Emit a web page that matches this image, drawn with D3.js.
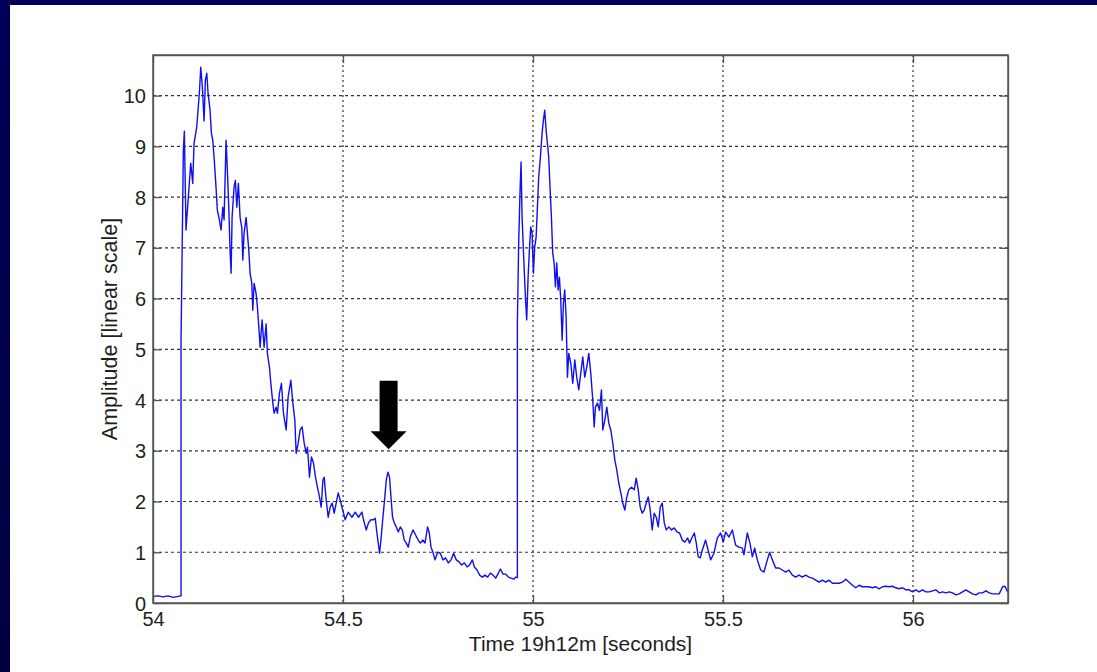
<!DOCTYPE html>
<html>
<head>
<meta charset="utf-8">
<script src="https://cdn.jsdelivr.net/npm/d3@7"></script>
<style>
  html, body { margin: 0; padding: 0; background: #ffffff; overflow: hidden; }
  svg { display: block; }
  text { font-family: "Liberation Sans", Arial, sans-serif; fill: #1e1e1e; }
</style>
</head>
<body>
<div id="chart"></div>
<script>
// Tick values
const xTicks = [54, 54.5, 55, 55.5, 56];
const xTickLabels = ["54", "54.5", "55", "55.5", "56"];
const yTicks = [0, 1, 2, 3, 4, 5, 6, 7, 8, 9, 10];

// Signal: time [s] and amplitude
const timeSec = [
  54.0, 54.0132, 54.0263, 54.0395, 54.0527, 54.0659, 54.0711, 54.0738, 54.0738,
  54.0764, 54.0798, 54.0825, 54.0869, 54.0930, 54.0993, 54.1046, 54.1080, 54.1151,
  54.1220, 54.1257, 54.1299, 54.1344, 54.1378, 54.1415, 54.1449, 54.1502, 54.1536,
  54.1573, 54.1607, 54.1652, 54.1694, 54.1747, 54.1791, 54.1836, 54.1870, 54.1923,
  54.1957, 54.1994, 54.2028, 54.2055, 54.2081, 54.2134, 54.2168, 54.2205, 54.2247,
  54.2292, 54.2337, 54.2363, 54.2397, 54.2450, 54.2484, 54.2521, 54.2555, 54.2600,
  54.2626, 54.2661, 54.2713, 54.2748, 54.2785, 54.2819, 54.2871, 54.2924, 54.2977,
  54.3011, 54.3064, 54.3101, 54.3153, 54.3188, 54.3240, 54.3275, 54.3327, 54.3380,
  54.3433, 54.3504, 54.3556, 54.3627, 54.3680, 54.3733, 54.3767, 54.3820, 54.3873,
  54.3925, 54.3978, 54.4031, 54.4065, 54.4118, 54.4170, 54.4223, 54.4276, 54.4328,
  54.4381, 54.4426, 54.4471, 54.4505, 54.4558, 54.4610, 54.4663, 54.4716, 54.4768,
  54.4821, 54.4874, 54.4926,
  54.5058, 54.5137, 54.5235, 54.5322, 54.5408, 54.5498, 54.5540, 54.5611, 54.5672,
  54.5735, 54.5804, 54.5848, 54.5893, 54.5962, 54.5998, 54.6051, 54.6093, 54.6138,
  54.6183, 54.6225, 54.6262, 54.6304, 54.6349, 54.6402, 54.6454, 54.6507, 54.6560,
  54.6612, 54.6665, 54.6718, 54.6770, 54.6841, 54.6910, 54.6981, 54.7034, 54.7105,
  54.7158, 54.7226, 54.7271, 54.7316, 54.7368, 54.7421, 54.7490, 54.7561, 54.7632,
  54.7700, 54.7771, 54.7843, 54.7911, 54.7982, 54.8053, 54.8122, 54.8193, 54.8264,
  54.8333, 54.8404, 54.8457, 54.8528, 54.8596, 54.8667, 54.8738, 54.8807, 54.8878,
  54.8949, 54.9018, 54.9089, 54.9141, 54.9212, 54.9281, 54.9352, 54.9423, 54.9492,
  54.9544, 54.9589, 54.9589,
  54.9623, 54.9660, 54.9686, 54.9713, 54.9755, 54.9800, 54.9834, 54.9871, 54.9905,
  54.9940, 54.9976, 55.0011, 55.0045, 55.0082, 55.0116, 55.0150, 55.0195, 55.0240,
  55.0274, 55.0308, 55.0345, 55.0379, 55.0414, 55.0451, 55.0485, 55.0519, 55.0556,
  55.0590, 55.0625, 55.0661, 55.0696, 55.0730, 55.0767, 55.0801, 55.0835, 55.0872,
  55.0906, 55.0941, 55.0993, 55.1046, 55.1099, 55.1151, 55.1204, 55.1257, 55.1310,
  55.1362, 55.1415, 55.1468, 55.1520, 55.1573, 55.1610, 55.1644, 55.1697, 55.1750,
  55.1802, 55.1837, 55.1889, 55.1942, 55.1995, 55.2047, 55.2100, 55.2153, 55.2205,
  55.2258, 55.2311, 55.2363, 55.2416, 55.2469, 55.2521, 55.2592, 55.2663, 55.2716,
  55.2769, 55.2821, 55.2874, 55.2927, 55.2979, 55.3032, 55.3085, 55.3137, 55.3190,
  55.3243, 55.3296, 55.3348, 55.3401, 55.3454, 55.3506, 55.3575, 55.3646, 55.3717,
  55.3786, 55.3857, 55.3928, 55.3996, 55.4068, 55.4120, 55.4191, 55.4244, 55.4297,
  55.4349, 55.4402, 55.4455,
  55.4542, 55.4674, 55.4761, 55.4850, 55.4937, 55.5008, 55.5069, 55.5156, 55.5245,
  55.5332, 55.5419, 55.5509, 55.5551, 55.5640, 55.5709, 55.5772, 55.5833, 55.5904,
  55.5991, 55.6078, 55.6167, 55.6228, 55.6299, 55.6386, 55.6473, 55.6562, 55.6649,
  55.6736, 55.6826, 55.6913, 55.7000, 55.7089, 55.7176, 55.7263, 55.7353, 55.7440,
  55.7527, 55.7616, 55.7703, 55.7790, 55.7880, 55.7967, 55.8054, 55.8143, 55.8230,
  55.8317, 55.8407, 55.8494, 55.8581, 55.8670, 55.8757, 55.8844, 55.8934, 55.9021,
  55.9108, 55.9197, 55.9284, 55.9371, 55.9460, 55.9547, 55.9634, 55.9724, 55.9811,
  55.9898, 55.9987, 56.0074, 56.0161, 56.0251, 56.0338, 56.0425, 56.0514, 56.0601,
  56.0688, 56.0778, 56.0865, 56.0952, 56.1041, 56.1128, 56.1215, 56.1305, 56.1392,
  56.1479, 56.1568, 56.1655, 56.1742, 56.1832, 56.1919, 56.2006, 56.2095, 56.2182,
  56.2269, 56.2358, 56.2419, 56.2490
];
const amplitude = [
  0.13, 0.14, 0.12, 0.14, 0.11, 0.13, 0.14, 0.14, 5.2,
  6.75, 8.9, 9.3, 7.35, 8.0, 8.67, 8.27, 9.06, 9.38,
  10.05, 10.56, 10.17, 9.5, 10.3, 10.44, 10.05, 9.71, 9.26,
  9.12, 8.79, 8.27, 7.74, 7.55, 7.35, 7.8, 7.55, 9.12,
  8.53, 7.8, 6.95, 6.5, 7.6, 8.2, 8.33, 7.8, 8.27,
  7.6, 7.4, 6.76, 7.29, 7.6, 7.29, 6.95, 6.5, 6.3,
  5.77, 6.3, 6.1, 5.83, 5.44, 5.04, 5.58, 5.04, 5.5,
  4.92, 4.65, 4.33, 3.94, 3.74, 3.86, 3.74, 4.13, 4.33,
  3.74, 3.41, 4.06, 4.39, 3.94, 3.6, 2.95, 3.15, 3.41,
  3.47, 3.15, 2.95, 3.07, 2.48, 2.88, 2.76, 2.48, 2.28,
  2.09, 1.89, 2.42, 2.48, 2.03, 1.69, 1.89, 1.97, 1.77,
  1.97, 2.17, 2.03,
  1.64, 1.79, 1.69, 1.79, 1.69, 1.79, 1.64, 1.44, 1.58,
  1.64, 1.64, 1.67, 1.38, 0.98, 1.24, 1.69, 2.03, 2.42,
  2.58, 2.48, 2.09, 1.69, 1.58, 1.5, 1.40, 1.5, 1.44,
  1.24, 1.18, 1.1, 1.3, 1.44, 1.34, 1.24, 1.18, 1.24,
  1.18, 1.5, 1.38, 1.1, 1.0, 0.85, 1.0, 0.98, 0.85,
  0.89, 0.79, 0.85, 0.98, 0.85, 0.81, 0.75, 0.79, 0.71,
  0.75, 0.85, 0.71, 0.65, 0.55, 0.51, 0.55, 0.51, 0.59,
  0.55, 0.49, 0.59, 0.67, 0.57, 0.57, 0.51, 0.49, 0.47,
  0.51, 0.5, 5.52,
  7.09, 8.14, 8.69, 7.6, 6.82, 6.03, 5.58, 6.42, 6.95,
  7.41, 7.29, 6.5, 7.01, 7.21, 7.8, 8.39, 8.79, 9.26,
  9.52, 9.71, 9.32, 9.06, 8.79, 8.14, 7.6, 6.9, 6.7,
  6.23, 6.7, 6.17, 6.42, 5.97, 5.18, 5.91, 6.17, 5.63,
  4.45, 4.92, 4.73, 4.33, 4.79, 4.45, 4.2, 4.53, 4.85,
  4.45, 4.65, 4.92, 4.53, 4.0, 3.47, 3.86, 3.94, 3.8,
  4.2, 3.41, 3.6, 3.86, 3.54, 3.41, 3.15, 2.82, 2.62,
  2.36, 2.17, 1.97, 1.83, 2.09, 2.23, 2.28, 2.23, 2.46,
  2.23, 1.89, 1.77, 1.83, 1.97, 2.09, 1.83, 1.44, 1.77,
  1.69, 1.50, 1.89, 1.97, 1.58, 1.44, 1.5, 1.44, 1.48,
  1.40, 1.38, 1.24, 1.2, 1.28, 1.18, 1.3, 1.38, 1.18,
  0.91, 0.89, 1.04,
  1.24, 0.85, 0.98, 1.28, 1.38, 1.2, 1.4, 1.3, 1.44,
  1.14, 1.1, 1.08, 0.95, 1.38, 1.18, 0.91, 1.08, 0.85,
  0.65, 0.61, 0.85, 1.0, 0.85, 0.69, 0.69, 0.65, 0.61,
  0.65, 0.55, 0.51, 0.55, 0.51, 0.55, 0.51, 0.49, 0.45,
  0.41, 0.45, 0.41, 0.45, 0.39, 0.39, 0.39, 0.41, 0.47,
  0.41, 0.35, 0.30, 0.35, 0.32, 0.32, 0.32, 0.30, 0.32,
  0.28, 0.32, 0.33, 0.32, 0.33, 0.30, 0.28, 0.30, 0.26,
  0.26, 0.22, 0.26, 0.22, 0.26, 0.22, 0.22, 0.24, 0.26,
  0.20, 0.22, 0.20, 0.22, 0.20, 0.16, 0.18, 0.22, 0.26,
  0.22, 0.18, 0.16, 0.20, 0.20, 0.24, 0.20, 0.18, 0.18,
  0.18, 0.32, 0.33, 0.22
];

// Arrow pointing at the small bump
const arrowTime = 54.62;
const arrowTip = 3.03;
const arrowTail = 4.38;

// Page size and plot box
const width = 1097, height = 672;
const margin = {top: 55, right: 89, bottom: 69, left: 153};
const plotW = width - margin.left - margin.right;
const plotH = height - margin.top - margin.bottom;

const svg = d3.select("#chart")
    .append("svg")
    .attr("width", width)
    .attr("height", height);

// Slide background: navy bands on the top and left edges
const navy = svg.append("defs").append("linearGradient")
    .attr("id", "navy").attr("x1", 0).attr("y1", 0).attr("x2", 0).attr("y2", 1);
navy.append("stop").attr("offset", "0%").attr("stop-color", "#000058");
navy.append("stop").attr("offset", "100%").attr("stop-color", "#000040");

svg.append("rect")
    .attr("width", width).attr("height", height)
    .attr("fill", "#ffffff");
svg.append("rect")
    .attr("width", 10).attr("height", height)
    .attr("fill", "url(#navy)");
svg.append("rect")
    .attr("width", width).attr("height", 5)
    .attr("fill", "#000058");

const g = svg.append("g")
    .attr("transform", `translate(${margin.left}, ${margin.top})`);

const x = d3.scaleLinear().domain([54, 56.25]).range([0, plotW]);
const y = d3.scaleLinear().domain([0, 10.8]).range([plotH, 0]);

// Grid lines
g.append("g")
    .selectAll("line")
    .data(yTicks.filter(d => d > 0))
    .enter()
    .append("line")
    .attr("x1", 0).attr("x2", plotW)
    .attr("y1", d => y(d)).attr("y2", d => y(d))
    .style("stroke", "#333")
    .style("stroke-width", 1.2)
    .style("stroke-dasharray", "3,3");

g.append("g")
    .selectAll("line")
    .data(xTicks.filter(d => d > 54))
    .enter()
    .append("line")
    .attr("x1", d => x(d)).attr("x2", d => x(d))
    .attr("y1", 0).attr("y2", plotH)
    .style("stroke", "#333")
    .style("stroke-width", 1.2)
    .style("stroke-dasharray", "2,3");

// Signal
const line = d3.line()
    .x((d, i) => x(timeSec[i]))
    .y(d => y(d));

g.append("path")
    .datum(amplitude)
    .attr("d", line)
    .style("fill", "none")
    .style("stroke", "#1010ec")
    .style("stroke-width", 1.4)
    .style("stroke-linejoin", "round");

// Arrow annotation
const ax = x(arrowTime), tipY = y(arrowTip), tailY = y(arrowTail);
const headLen = 18, shaftHalf = 9, headHalf = 18;
g.append("path")
    .attr("d", `M${ax - shaftHalf},${tailY} L${ax + shaftHalf},${tailY} L${ax + shaftHalf},${tipY - headLen}
      L${ax + headHalf},${tipY - headLen} L${ax},${tipY} L${ax - headHalf},${tipY - headLen}
      L${ax - shaftHalf},${tipY - headLen} Z`)
    .style("fill", "#000");

// Axes (MATLAB-style: ticks inside, box all round)
const axisColor = "#555";
const xAxis = g.append("g")
    .attr("transform", `translate(0, ${plotH})`)
    .call(d3.axisBottom(x).tickValues(xTicks)
        .tickFormat((d, i) => xTickLabels[i])
        .tickSizeInner(-8).tickSizeOuter(0).tickPadding(13));
const yAxis = g.append("g")
    .call(d3.axisLeft(y).tickValues(yTicks)
        .tickSizeInner(-8).tickSizeOuter(0).tickPadding(14));
g.append("g")
    .call(d3.axisTop(x).tickValues(xTicks).tickFormat("")
        .tickSizeInner(-8).tickSizeOuter(0));
g.append("g")
    .attr("transform", `translate(${plotW}, 0)`)
    .call(d3.axisRight(y).tickValues(yTicks).tickFormat("")
        .tickSizeInner(-8).tickSizeOuter(0));

g.selectAll(".domain, .tick line")
    .style("stroke", axisColor)
    .style("stroke-width", 1.3);
xAxis.selectAll("text").style("font-size", "20px").attr("dy", "0.5em");
yAxis.selectAll("text").style("font-size", "20px").attr("dx", "7px").attr("dy", "0.35em");

g.append("rect")
    .attr("width", plotW).attr("height", plotH)
    .style("fill", "none")
    .style("stroke", axisColor)
    .style("stroke-width", 1.5);

// Axis labels
g.append("text")
    .attr("x", plotW / 2)
    .attr("y", plotH + 48)
    .style("text-anchor", "middle")
    .style("font-size", "21px")
    .text("Time 19h12m [seconds]");

g.append("text")
    .attr("transform", `translate(-36, ${plotH / 2}) rotate(-90)`)
    .style("text-anchor", "middle")
    .style("font-size", "21.5px")
    .text("Amplitude [linear scale]");
</script>
</body>
</html>
